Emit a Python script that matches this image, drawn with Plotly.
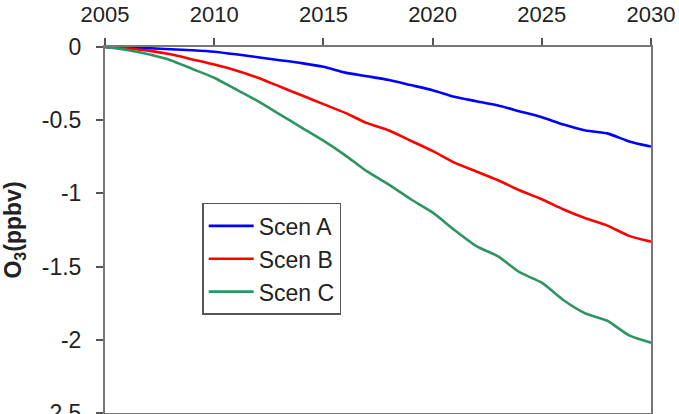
import plotly.graph_objects as go

years = list(range(2005, 2031))
scen_a = [0, -0.002, -0.008, -0.015, -0.022, -0.032, -0.05, -0.07, -0.09, -0.11,
          -0.135, -0.175, -0.2, -0.225, -0.26, -0.295, -0.34, -0.37, -0.40, -0.44,
          -0.48, -0.53, -0.57, -0.59, -0.645, -0.68]
scen_b = [0, -0.01, -0.025, -0.05, -0.085, -0.12, -0.16, -0.21, -0.27, -0.33,
          -0.39, -0.45, -0.52, -0.57, -0.64, -0.71, -0.79, -0.85, -0.91, -0.98,
          -1.04, -1.11, -1.17, -1.22, -1.29, -1.33]
scen_c = [0, -0.02, -0.05, -0.09, -0.15, -0.21, -0.29, -0.37, -0.46, -0.55,
          -0.64, -0.74, -0.85, -0.94, -1.04, -1.13, -1.25, -1.36, -1.43, -1.54,
          -1.61, -1.73, -1.82, -1.87, -1.97, -2.02]
names = ["Scen A", "Scen B", "Scen C"]
colors = ["#0000FF", "#FF0000", "#2E9462"]
x_ticks = [2005, 2010, 2015, 2020, 2025, 2030]
y_ticks = [0, -0.5, -1, -1.5, -2, -2.5]
y_tick_text = ["0", "-0.5", "-1", "-1.5", "-2", "-2.5"]

FONT = "Liberation Sans, Arial, Helvetica, sans-serif"

fig = go.Figure()
for i, (n, s, c) in enumerate(zip(names, [scen_a, scen_b, scen_c], colors)):
    fig.add_trace(go.Scatter(x=years, y=s, name=n, mode="lines",
                             line=dict(color=c, width=2.6, shape="spline", smoothing=0.6),
                             legendgroup=n))

fig.update_layout(
    width=679, height=414,
    margin=dict(l=105, r=28, t=47, b=1),
    paper_bgcolor="white", plot_bgcolor="white",
    font=dict(family=FONT, size=22, color="#222"),
    showlegend=True,
    legend=dict(x=0.178, y=0.574, xanchor="left", yanchor="top",
                bgcolor="white", bordercolor="#555", borderwidth=1.5,
                font=dict(size=23, color="#222"),
                tracegroupgap=0, itemwidth=45, traceorder="grouped",
                entrywidth=146, entrywidthmode="pixels"),
)
fig.update_xaxes(range=[2005, 2030], side="top", tickvals=x_ticks,
                 ticks="outside", ticklen=7, tickwidth=1.5, tickcolor="#555",
                 ticklabelstandoff=7, automargin=False,
                 showline=True, linecolor="#777", linewidth=2, mirror=True,
                 showgrid=False, zeroline=False, tickfont=dict(size=22, color="#222"))
fig.update_yaxes(range=[-2.5, 0], tickvals=y_ticks, ticktext=y_tick_text,
                 ticks="outside", ticklen=7, tickwidth=1.5, tickcolor="#555",
                 ticklabelstandoff=10, ticklabeloverflow="allow", automargin=False,
                 showline=True, linecolor="#777", linewidth=2, mirror=True,
                 showgrid=False, zeroline=False, tickfont=dict(size=23, color="#222"),
                 title=dict(text="<b>O<sub>3</sub>(ppbv)</b>", font=dict(size=23, color="#222"),
                            standoff=18))

fig.write_html("out.html")
